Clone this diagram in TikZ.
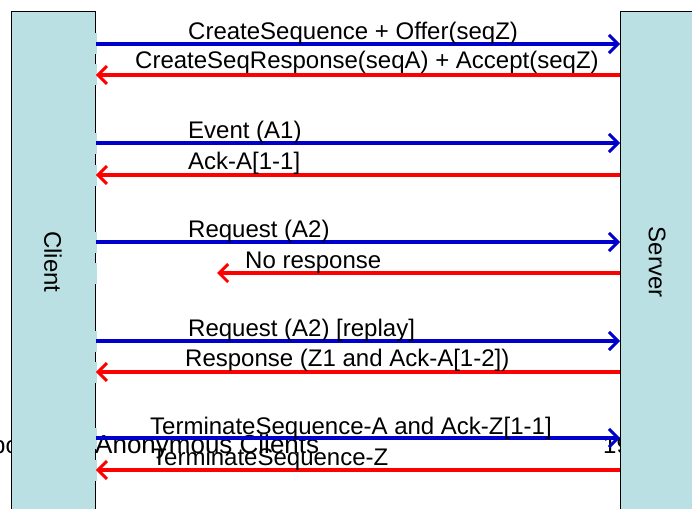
\documentclass[tikz,border=0pt]{standalone}
\usepackage{fontspec}
\setmainfont{Liberation Sans}
\usetikzlibrary{arrows.meta}
\definecolor{boxfill}{HTML}{BAE0E4}
\definecolor{fwd}{HTML}{0000CC}
\definecolor{bwd}{HTML}{FF0000}
\begin{document}
\begin{tikzpicture}[x=1pt,y=-1pt,
  lane/.style={draw=black, line width=0.8pt, fill=boxfill, minimum width=84pt,
    minimum height=510pt, inner sep=0pt, anchor=north west},
  msg/.style={line width=3.5pt, -{Straight Barb[length=9pt,width=18pt,line width=3pt]}},
  fwdmsg/.style={msg, draw=fwd},
  bwdmsg/.style={msg, draw=bwd},
  gap/.style={fill=boxfill, draw=none, minimum width=2pt, minimum height=21pt, inner sep=0pt},
  lbl/.style={anchor=base west, inner sep=0pt, font=\fontsize{24}{28}\selectfont},
  lanelbl/.style={rotate=-90, inner sep=0pt, font=\fontsize{24}{28}\selectfont}]
\useasboundingbox (0,0) rectangle (692,508);
% stray texts behind the lanes
\node[lbl] (bo) at (-8,453) {bo};
\node[lbl, font=\fontsize{26}{30}\selectfont] (anon) at (95,453) {Anonymous Clients};
\node[lbl] (nineteen) at (603,453) {19};
% lanes
\node[lane] (client) at (11,11) {};
\node[lane] (server) at (620,11) {};
\node[lanelbl] (clientlbl) at (53,262) {Client};
\node[lanelbl] (serverlbl) at (657,262) {Server};
% message rows
\foreach \n/\y in {f1/44,b1/75,f2/143,b2/175,f3/242,b3/273,f4/341,b4/372,f5/438,b5/470}{
  \coordinate (\n) at (0,\y);
  \node[gap] at (client.east |- \n) {};
}
\coordinate (nr) at (217,273);
\draw[fwdmsg] (client.east |- f1) -- (server.west |- f1);
\draw[bwdmsg] (server.west |- b1) -- (client.east |- b1);
\draw[fwdmsg] (client.east |- f2) -- (server.west |- f2);
\draw[bwdmsg] (server.west |- b2) -- (client.east |- b2);
\draw[fwdmsg] (client.east |- f3) -- (server.west |- f3);
\draw[bwdmsg] (server.west |- b3) -- (nr);
\draw[fwdmsg] (client.east |- f4) -- (server.west |- f4);
\draw[bwdmsg] (server.west |- b4) -- (client.east |- b4);
\draw[fwdmsg] (client.east |- f5) -- (server.west |- f5);
\draw[bwdmsg] (server.west |- b5) -- (client.east |- b5);
% labels
\node[lbl] (l1) at (188,40) {CreateSequence + Offer(seqZ)};
\node[lbl] (l2) at (135,69) {CreateSeqResponse(seqA) + Accept(seqZ)};
\node[lbl] (l3) at (188,138) {Event (A1)};
\node[lbl] (l4) at (188,169) {Ack-A[1-1]};
\node[lbl] (l5) at (188,237) {Request (A2)};
\node[lbl] (l6) at (245,268) {No response};
\node[lbl] (l7) at (188,336) {Request (A2) [replay]};
\node[lbl] (l8) at (185,366) {Response (Z1 and Ack-A[1-2])};
\node[lbl] (l9) at (150,434) {TerminateSequence-A and Ack-Z[1-1]};
\node[lbl] (l10) at (152,465) {TerminateSequence-Z};
\end{tikzpicture}
\end{document}
